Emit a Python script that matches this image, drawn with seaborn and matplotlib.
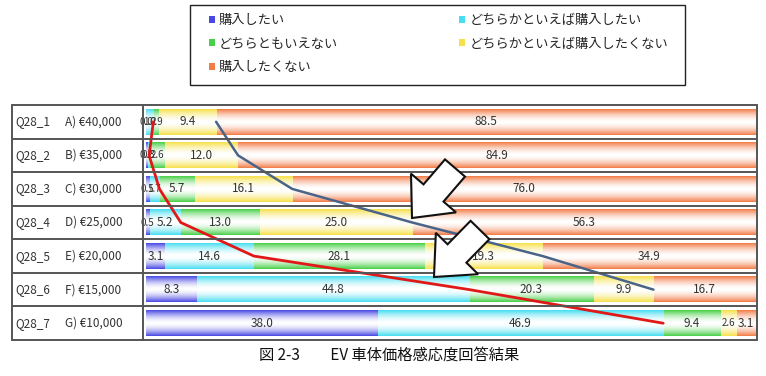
import numpy as np
import pandas as pd
import matplotlib
matplotlib.use("Agg")
import matplotlib.pyplot as plt
import matplotlib.colors as mcolors
import seaborn as sns
from matplotlib.patches import Patch, Polygon, Rectangle

codes = ["Q28_1", "Q28_2", "Q28_3", "Q28_4", "Q28_5", "Q28_6", "Q28_7"]
prices = ["A) €40,000", "B) €35,000", "C) €30,000", "D) €25,000",
          "E) €20,000", "F) €15,000", "G) €10,000"]
series_names = ["購入したい", "どちらかといえば購入したい", "どちらともいえない",
                "どちらかといえば購入したくない", "購入したくない"]
want = [0.0, 0.2, 0.5, 0.5, 3.1, 8.3, 38.0]
rather_want = [1.2, 0.3, 1.7, 5.2, 14.6, 44.8, 46.9]
neutral = [0.9, 2.6, 5.7, 13.0, 28.1, 20.3, 9.4]
rather_not = [9.4, 12.0, 16.1, 25.0, 19.3, 9.9, 2.6]
not_want = [88.5, 84.9, 76.0, 56.3, 34.9, 16.7, 3.1]
caption = "図 2-3　　EV 車体価格感応度回答結果"

colors = ["#4848e4", "#48def0", "#48d048", "#f6e04a", "#f27c48"]
series = [want, rather_want, neutral, rather_not, not_want]

sns.set_theme(style="white")
plt.rcParams["font.family"] = ["Noto Sans CJK JP", "DejaVu Sans"]

W, H = 766, 376
fig = plt.figure(figsize=(W / 100, H / 100), dpi=100)
ax = fig.add_axes([143 / W, 1 - 340 / H, 614 / W, 235 / H])

data = np.array(series)  # 5 x 7
cum = np.cumsum(data, axis=0)


def grad(color, n=64):
    rgb = np.array(mcolors.to_rgb(color))
    t = np.abs(np.linspace(-1, 1, n))
    w = t ** 1.7
    img = (1 - w)[:, None] + w[:, None] * rgb[None, :]
    return img[:, None, :]


order = 0
for k in reversed(range(5)):
    n0 = len(ax.patches)
    df = pd.DataFrame({"code": codes, "val": cum[k]})
    sns.barplot(data=df, x="val", y="code", orient="h", color=colors[k],
                saturation=1, width=0.76, ax=ax, order=codes)
    new = ax.patches[n0:]
    for p in new:
        x0, y0, w, h = p.get_x(), p.get_y(), p.get_width(), p.get_height()
        if w <= 0:
            continue
        ax.imshow(grad(colors[k]), extent=(x0, x0 + w, y0 + h, y0),
                  aspect="auto", interpolation="bilinear", zorder=3 + order * 0.01)
        order += 1

# value labels
for i in range(7):
    left = 0
    for k in range(5):
        v = data[k, i]
        fs = 8.5 if v >= 3 else 7
        ax.text(left + v / 2, i, f"{v:.1f}", ha="center", va="center",
                fontsize=fs, color="#333333", zorder=6)
        left += v

# trend lines
ax.plot([want[i] + rather_want[i] for i in range(7)], list(range(7)),
        color="#e01818", lw=2, zorder=7)
ax.plot([100 - not_want[i] for i in range(6)], list(range(6)),
        color="#4a6488", lw=1.8, zorder=7)

ax.set_xlim(-0.5, 100.3)
ax.set_ylim(6.5, -0.5)
ax.set_xlabel("")
ax.set_ylabel("")
ax.set_xticks([])
ax.set_yticks([])
for s in ax.spines.values():
    s.set_visible(False)

# table grid
tr = ax.get_yaxis_transform()
xl = (12 - 143) / 614
for yb in np.arange(-0.5, 7.0, 1.0):
    ax.plot([xl, 1.0], [yb, yb], transform=tr, color="#555555", lw=1.4,
            clip_on=False, zorder=8)
for xv in [xl, 0.0, 1.0]:
    ax.plot([xv, xv], [-0.5, 6.5], transform=tr, color="#555555", lw=1.4,
            clip_on=False, zorder=8)

for i in range(7):
    ax.text((15 - 143) / 614, i, codes[i], transform=tr, ha="left", va="center",
            fontsize=8.5, color="#333333")
    ax.text((65 - 143) / 614, i, prices[i], transform=tr, ha="left", va="center",
            fontsize=8.5, color="#333333")


# arrows (pixel coords -> figure fraction)
def arrow(tail, tip, L_head=0.5, hw=0.45, sw=0.2):
    tail = np.array(tail, float)
    tip = np.array(tip, float)
    d = tip - tail
    L = np.linalg.norm(d)
    d /= L
    n = np.array([-d[1], d[0]])
    neck = tail + d * L * (1 - L_head)
    pts = [tail + n * sw * L, neck + n * sw * L, neck + n * hw * L, tip,
           neck - n * hw * L, neck - n * sw * L, tail - n * sw * L]
    pts = [(p[0] / W, 1 - p[1] / H) for p in pts]
    fig.patches.append(Polygon(pts, closed=True, facecolor="white",
                               edgecolor="#111111", lw=1.5,
                               transform=fig.transFigure, zorder=20))


arrow((455, 168), (412, 218))
arrow((480, 230), (434, 277))

# legend
fig.patches.append(Rectangle((190 / W, 1 - 85 / H), 495 / W, 80 / H,
                             facecolor="white", edgecolor="#222222", lw=1.0,
                             transform=fig.transFigure, zorder=0))
handles = [Patch(facecolor=colors[k], edgecolor="none") for k in range(5)]
idx = [0, 2, 4, 1, 3]
leg = fig.legend([handles[i] for i in idx], [series_names[i] for i in idx],
                 ncol=2, loc="upper left", bbox_to_anchor=(205 / W, 1 - 10 / H),
                 frameon=False, fontsize=9.5, handlelength=0.45,
                 handleheight=0.45, handletextpad=0.3, columnspacing=9.2,
                 labelspacing=0.8, borderpad=0.3, borderaxespad=0)

fig.text(389 / W, 1 - 355 / H, caption, ha="center", va="center",
         fontsize=11, color="#111111")

fig.savefig("out.png", dpi=100)
